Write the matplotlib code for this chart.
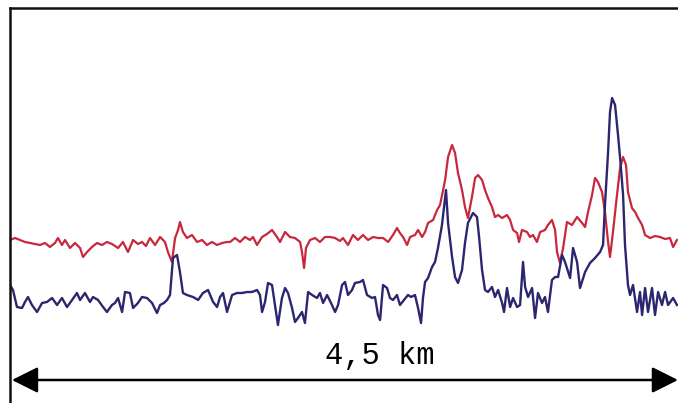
import matplotlib
matplotlib.use("Agg")
import matplotlib.pyplot as plt
from matplotlib.patches import FancyArrowPatch

# Upper trace (red): distance along track in km and signal level
red_km = [0.000, 0.034, 0.067, 0.101, 0.135, 0.168, 0.202, 0.236, 0.269, 0.303,
          0.323, 0.350, 0.371, 0.404, 0.438, 0.472, 0.492, 0.519, 0.552, 0.586,
          0.620, 0.653, 0.687, 0.728, 0.761, 0.795, 0.829, 0.862, 0.889, 0.916,
          0.943, 0.977, 1.011, 1.044, 1.064, 1.091, 1.112, 1.132, 1.145, 1.165,
          1.192, 1.226, 1.260, 1.294, 1.327, 1.361, 1.395, 1.428, 1.462, 1.482,
          1.516, 1.550, 1.583, 1.617, 1.637, 1.664, 1.698, 1.731, 1.765, 1.799,
          1.819, 1.853, 1.886, 1.920, 1.954, 1.967, 1.981, 1.994, 2.021, 2.055,
          2.088, 2.122, 2.156, 2.190, 2.223, 2.243, 2.277, 2.311, 2.344, 2.378,
          2.412, 2.446, 2.479, 2.513, 2.547, 2.580, 2.607, 2.627, 2.648, 2.675,
          2.695, 2.728, 2.749, 2.776, 2.796, 2.816, 2.850, 2.877, 2.897, 2.931,
          2.951, 2.978, 2.998, 3.018, 3.045, 3.065, 3.085, 3.112, 3.133, 3.153,
          3.180, 3.200, 3.220, 3.247, 3.267, 3.288, 3.315, 3.348, 3.369, 3.389,
          3.416, 3.429, 3.449, 3.483, 3.503, 3.523, 3.550, 3.571, 3.604, 3.624,
          3.651, 3.672, 3.685, 3.705, 3.726, 3.752, 3.786, 3.820, 3.854, 3.874,
          3.894, 3.921, 3.941, 3.961, 3.988, 4.008, 4.029, 4.042, 4.062, 4.089,
          4.110, 4.130, 4.150, 4.163, 4.190, 4.211, 4.231, 4.258, 4.278, 4.312,
          4.345, 4.379, 4.413, 4.446, 4.467, 4.493]
red_level = [160, 162, 160, 158, 157, 156, 155, 157, 153, 157,
             162, 155, 160, 152, 157, 152, 143, 148, 153, 157,
             155, 158, 156, 152, 158, 148, 160, 156, 158, 154,
             162, 155, 163, 158, 148, 138, 162, 170, 178, 168,
             162, 165, 158, 160, 155, 158, 155, 157, 158, 158,
             162, 158, 163, 160, 163, 155, 163, 166, 170, 163,
             158, 168, 163, 162, 158, 148, 132, 152, 160, 162,
             158, 163, 163, 162, 159, 162, 155, 165, 160, 165,
             160, 163, 162, 162, 158, 165, 172, 167, 163, 155,
             163, 165, 170, 163, 168, 177, 180, 190, 195, 220,
             243, 255, 247, 227, 210, 193, 182, 203, 222, 225,
             220, 210, 202, 193, 183, 185, 182, 185, 180, 170,
             167, 158, 170, 168, 163, 165, 158, 168, 170, 175,
             180, 170, 148, 137, 152, 178, 175, 183, 177, 173,
             188, 205, 222, 218, 208, 188, 158, 143, 168, 205,
             232, 243, 235, 208, 192, 188, 182, 175, 165, 162,
             164, 163, 161, 162, 153, 160]

# Lower trace (blue)
blue_km = [0.000, 0.020, 0.047, 0.081, 0.101, 0.121, 0.148, 0.182, 0.216, 0.249,
           0.283, 0.317, 0.350, 0.384, 0.418, 0.451, 0.472, 0.505, 0.539, 0.559,
           0.593, 0.627, 0.653, 0.687, 0.707, 0.728, 0.755, 0.775, 0.808, 0.829,
           0.862, 0.889, 0.923, 0.957, 0.990, 1.011, 1.037, 1.058, 1.078, 1.098,
           1.125, 1.145, 1.165, 1.192, 1.233, 1.267, 1.300, 1.334, 1.368, 1.395,
           1.415, 1.435, 1.462, 1.482, 1.496, 1.529, 1.563, 1.597, 1.630, 1.664,
           1.684, 1.698, 1.718, 1.738, 1.765, 1.785, 1.805, 1.832, 1.853, 1.873,
           1.900, 1.920, 1.940, 1.967, 1.987, 2.008, 2.035, 2.068, 2.088, 2.109,
           2.136, 2.169, 2.190, 2.210, 2.237, 2.257, 2.277, 2.304, 2.324, 2.358,
           2.378, 2.405, 2.439, 2.459, 2.479, 2.493, 2.513, 2.540, 2.560, 2.580,
           2.607, 2.627, 2.654, 2.681, 2.702, 2.728, 2.749, 2.769, 2.782, 2.796,
           2.816, 2.843, 2.863, 2.883, 2.910, 2.937, 2.951, 2.978, 2.998, 3.018,
           3.045, 3.065, 3.085, 3.119, 3.146, 3.160, 3.180, 3.200, 3.220, 3.247,
           3.267, 3.288, 3.315, 3.328, 3.348, 3.369, 3.389, 3.416, 3.436, 3.456,
           3.470, 3.490, 3.517, 3.537, 3.557, 3.584, 3.604, 3.624, 3.651, 3.672,
           3.692, 3.719, 3.739, 3.773, 3.793, 3.820, 3.840, 3.874, 3.907, 3.941,
           3.975, 3.995, 4.008, 4.029, 4.042, 4.056, 4.076, 4.096, 4.110, 4.130,
           4.143, 4.163, 4.177, 4.197, 4.224, 4.244, 4.258, 4.278, 4.298, 4.325,
           4.345, 4.366, 4.392, 4.413, 4.433, 4.467, 4.493]
blue_level = [115, 110, 93, 92, 98, 103, 95, 88, 97, 98,
              102, 95, 102, 93, 100, 107, 100, 107, 98, 103,
              100, 93, 88, 95, 97, 102, 88, 108, 107, 92,
              97, 103, 102, 97, 87, 95, 97, 100, 105, 142,
              145, 128, 107, 105, 103, 100, 107, 110, 98, 93,
              103, 107, 88, 98, 105, 107, 107, 108, 108, 110,
              105, 88, 98, 117, 115, 95, 75, 102, 112, 107,
              92, 78, 82, 88, 77, 108, 105, 102, 107, 97,
              105, 95, 88, 95, 115, 118, 105, 110, 117, 118,
              120, 105, 102, 103, 85, 80, 115, 112, 102, 100,
              105, 95, 100, 105, 103, 105, 92, 77, 102, 118,
              122, 133, 138, 152, 175, 210, 177, 143, 123, 117,
              130, 157, 177, 187, 183, 163, 130, 110, 108, 113,
              103, 110, 97, 88, 112, 93, 102, 93, 95, 138,
              113, 103, 112, 82, 107, 97, 103, 88, 120, 123,
              123, 145, 138, 122, 152, 138, 112, 128, 137, 142,
              148, 155, 195, 248, 288, 302, 295, 265, 242, 205,
              155, 115, 105, 115, 88, 108, 85, 112, 88, 112,
              85, 108, 95, 108, 95, 102, 95]

span_km = 4.5
span_label = "4,5 km"

fig = plt.figure(figsize=(6.78, 4.03), dpi=100)
ax = fig.add_axes([10 / 678, 0.0, 668 / 678, 395 / 403])
ax.set_xlim(0, span_km)
ax.set_ylim(-3, 392)

ax.plot(red_km, red_level, color="#c8283c", lw=1.6, solid_joinstyle="round")
ax.plot(blue_km, blue_level, color="#2c2670", lw=1.7, solid_joinstyle="round")

# Scale bar with arrowheads at both ends
arrow = FancyArrowPatch((0.013, 20), (span_km, 20),
                        arrowstyle="<|-|>,head_length=1.0,head_width=0.5",
                        mutation_scale=16, color="black", lw=1.8,
                        shrinkA=0, shrinkB=0, clip_on=False)
ax.add_patch(arrow)
ax.text(2.49, 44, span_label, ha="center", va="center", fontsize=22,
        family=["Liberation Mono", "DejaVu Sans Mono"], color="black")

for side in ("right", "bottom"):
    ax.spines[side].set_visible(False)
for side in ("left", "top"):
    ax.spines[side].set_linewidth(1.8)
    ax.spines[side].set_color("#111111")
ax.set_xticks([])
ax.set_yticks([])

fig.savefig("out.png", dpi=100)
